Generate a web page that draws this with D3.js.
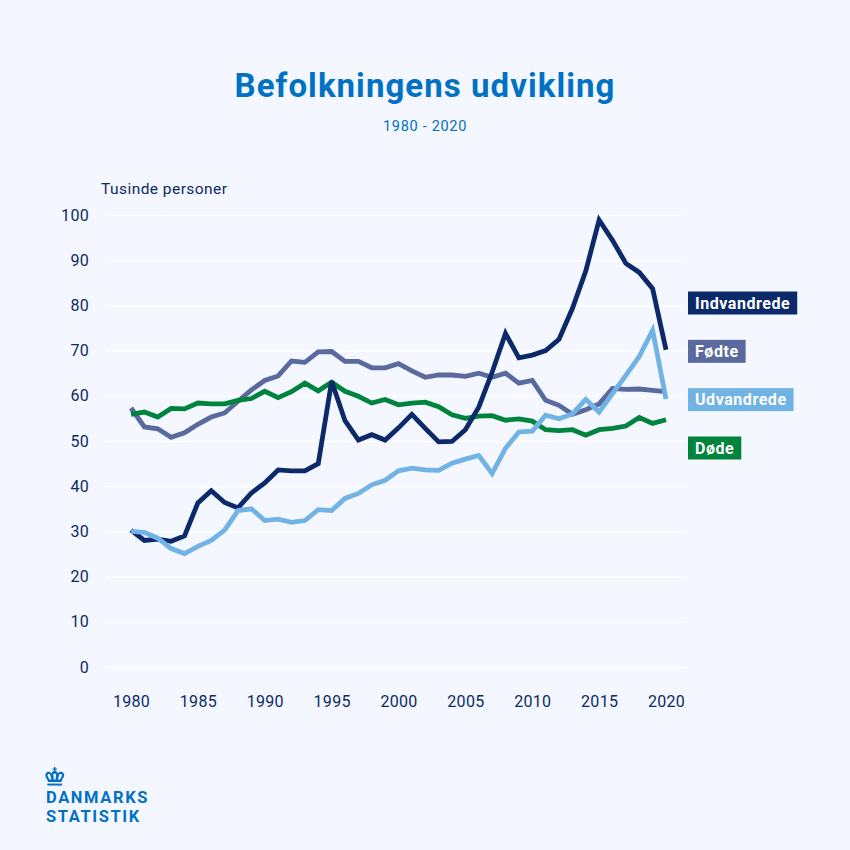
<!DOCTYPE html>
<html>
<head>
<meta charset="utf-8">
<script src="https://cdn.jsdelivr.net/npm/d3@7"></script>
<style>
  html, body { margin: 0; padding: 0; background: #f4f7ff; }
  svg { display: block; font-family: Roboto, sans-serif; }
  .tick line { stroke: #fff; stroke-width: 1.6; }
  .tick text { fill: #0c2a66; font-family: Roboto, sans-serif; font-size: 16px; letter-spacing: 0.3px; }
</style>
</head>
<body>
<svg id="chart" width="850" height="850"></svg>
<script>
const titleText = 'Befolkningens udvikling';
const subtitleText = '1980 - 2020';
const unitText = 'Tusinde personer';
const logoLines = ['DANMARKS', 'STATISTIK'];

const years = d3.range(1980, 2021);
const yTicks = [0, 10, 20, 30, 40, 50, 60, 70, 80, 90, 100];
const xTicks = [1980, 1985, 1990, 1995, 2000, 2005, 2010, 2015, 2020];

const indvandrede = [30.3, 28, 28.3, 27.8, 29, 36.3, 39, 36.4, 35.2, 38.5, 40.7, 43.6, 43.4, 43.4, 45, 63.2, 54.5, 50.2, 51.4, 50.2, 52.9, 55.9, 52.8, 49.8, 49.9, 52.5, 57.5, 65.2, 73.8, 68.4, 69, 70, 72.5, 79.3, 87.6, 98.9, 94.4, 89.3, 87.3, 83.7, 70.2];
const foedte = [57.3, 53.1, 52.7, 50.8, 51.8, 53.7, 55.3, 56.2, 58.8, 61.3, 63.4, 64.4, 67.7, 67.4, 69.7, 69.8, 67.6, 67.6, 66.2, 66.2, 67.1, 65.5, 64.1, 64.6, 64.6, 64.3, 65, 64.1, 65, 62.8, 63.4, 59, 57.9, 55.9, 56.9, 58.2, 61.6, 61.4, 61.5, 61.2, 60.9];
const udvandrede = [30, 29.8, 28.5, 26.2, 25.1, 26.7, 28, 30.3, 34.6, 35, 32.4, 32.7, 32, 32.4, 34.8, 34.6, 37.3, 38.4, 40.3, 41.3, 43.4, 44, 43.6, 43.5, 45.1, 46, 46.8, 42.8, 48.4, 52, 52.2, 55.7, 54.9, 56, 59.2, 56.4, 60.5, 64.5, 68.7, 74.5, 59.3];
const doede = [55.9, 56.4, 55.3, 57.2, 57.1, 58.4, 58.2, 58.2, 59, 59.4, 61, 59.6, 60.9, 62.8, 61.1, 63, 61, 59.9, 58.4, 59.2, 58, 58.4, 58.6, 57.6, 55.8, 55, 55.5, 55.6, 54.6, 54.9, 54.4, 52.5, 52.3, 52.5, 51.3, 52.5, 52.8, 53.3, 55.2, 53.9, 54.7];

const labelOrder = ['Indvandrede', 'Fødte', 'Udvandrede', 'Døde'];
const seriesValues = { 'Indvandrede': indvandrede, 'Fødte': foedte, 'Udvandrede': udvandrede, 'Døde': doede };
const seriesColors = { 'Indvandrede': '#0c2a69', 'Fødte': '#5a6a9e', 'Udvandrede': '#70b3e4', 'Døde': '#00843d' };
// painted bottom to top
const drawOrder = ['Fødte', 'Døde', 'Indvandrede', 'Udvandrede'];

const blue = '#0071c5';
const navy = '#0c2a66';

const svg = d3.select('#chart');

const x = d3.scaleLinear().domain([1980, 2020]).range([131, 666]);
const y = d3.scaleLinear().domain([0, 100]).range([667, 215]);

svg.append('rect').attr('width', 850).attr('height', 850).attr('fill', '#f4f7ff');

// Title
svg.append('text')
  .attr('x', 425).attr('y', 97)
  .attr('text-anchor', 'middle')
  .attr('font-size', 33).attr('font-weight', 700)
  .attr('letter-spacing', 1.05)
  .attr('fill', blue)
  .text(titleText);

svg.append('text')
  .attr('x', 425).attr('y', 131)
  .attr('text-anchor', 'middle')
  .attr('font-size', 14.5)
  .attr('letter-spacing', 0.7)
  .attr('fill', blue)
  .text(subtitleText);

svg.append('text')
  .attr('x', 101).attr('y', 194)
  .attr('font-size', 15.5)
  .attr('letter-spacing', 0.45)
  .attr('fill', navy)
  .text(unitText);

// Axes
const yAxis = d3.axisLeft(y).tickValues(yTicks).tickSize(579).tickPadding(17);
svg.append('g')
  .attr('transform', 'translate(685,0)')
  .call(yAxis)
  .call(g => g.select('.domain').remove());

const xAxis = d3.axisBottom(x).tickValues(xTicks).tickFormat(d3.format('d')).tickSize(0).tickPadding(0);
svg.append('g')
  .attr('transform', 'translate(0,695.5)')
  .call(xAxis)
  .call(g => g.select('.domain').remove());

// Lines
const line = d3.line()
  .x((d, i) => x(years[i]))
  .y(d => y(d));

drawOrder.forEach(name => {
  svg.append('path')
    .datum(seriesValues[name])
    .attr('fill', 'none')
    .attr('stroke', seriesColors[name])
    .attr('stroke-width', 4.8)
    .attr('stroke-linejoin', 'miter')
    .attr('d', line);
});

// Labels on the right
const labelY = d3.scalePoint().domain(labelOrder).range([303, 448]);
labelOrder.forEach(name => {
  const g = svg.append('g').attr('transform', `translate(688,${labelY(name)})`);
  const rect = g.append('rect')
    .attr('y', -11.5).attr('height', 23)
    .attr('fill', seriesColors[name]);
  const t = g.append('text')
    .attr('x', 7).attr('y', 5.8)
    .attr('font-size', 16).attr('font-weight', 700)
    .attr('letter-spacing', 0.55)
    .attr('fill', '#fff')
    .text(name);
  rect.attr('width', t.node().getComputedTextLength() + 14);
});

// Logo
const logo = svg.append('g').attr('fill', blue);
const crown = logo.append('g').attr('transform', 'translate(45,767) scale(0.9)');
crown.append('path')
  .attr('d', 'M10 0h1.6v1.6h1.6v1.4h-1.6v1.6h-1.6v-1.6h-1.6v-1.4h1.6z' +
    'M1 7c2-2.4 5-2 6 .3 .8-2 2-3 3.8-3.2 1.8 .2 3 1.2 3.8 3.2 1-2.3 4-2.7 6-.3 1.4 2 .6 4.2-1 6l-1.4 3.6h-14.8l-1.4-3.6c-1.6-1.8-2.4-4-1-6z');
crown.append('path')
  .attr('fill', '#f4f7ff')
  .attr('d', 'M3 8.4c1-1 2.6-.6 3 1l1.2 4.6h-2.2l-1.2-2.2c-.8-1-1.2-2.4-.8-3.4z' +
    'M18.6 8.4c-1-1-2.6-.6-3 1l-1.2 4.6h2.2l1.2-2.2c.8-1 1.2-2.4 .8-3.4z' +
    'M9.2 7.4h3.2l-.6 6.6h-2z');
crown.append('rect').attr('x', 2.6).attr('y', 18.4).attr('width', 16.4).attr('height', 2.2);

logoLines.forEach((d, i) => {
  logo.append('text')
    .attr('x', 46).attr('y', 802.5 + i * 19.5)
    .attr('font-size', 16.5).attr('font-weight', 700)
    .attr('letter-spacing', 1.6)
    .text(d);
});
</script>
</body>
</html>
